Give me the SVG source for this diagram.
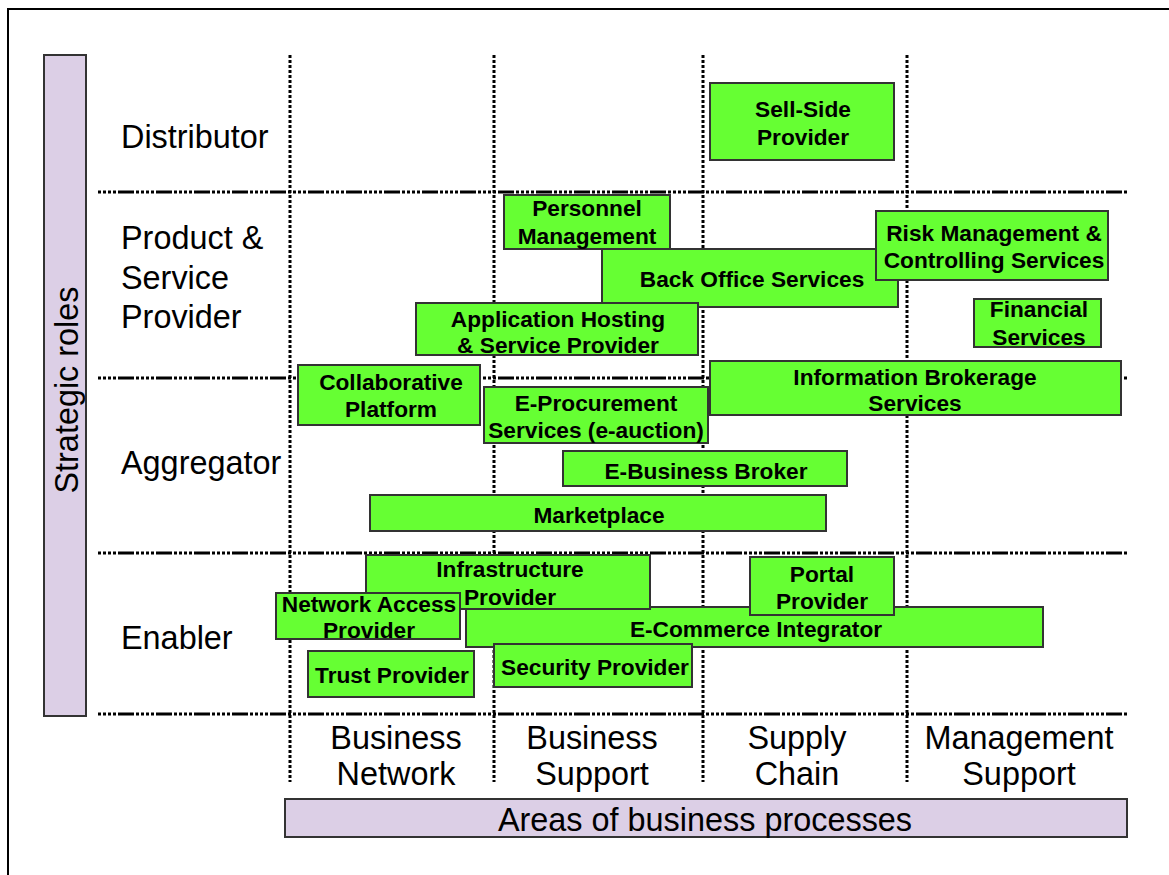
<svg xmlns="http://www.w3.org/2000/svg" width="1169" height="875" viewBox="0 0 1169 875">
<style>
.box{fill:#66ff33;stroke:#333;stroke-width:2}
.bar{fill:#dccfe6;stroke:#333;stroke-width:2}
.bt{font-family:"Liberation Sans",Arial,sans-serif;font-weight:bold;font-size:22.7px;fill:#000;text-anchor:middle}
.rl{font-family:"Liberation Sans",Arial,sans-serif;font-size:32.4px;fill:#000}
.cl{font-family:"Liberation Sans",Arial,sans-serif;font-size:32.4px;fill:#000;text-anchor:middle}
.hl{stroke:#000;stroke-width:3;stroke-dasharray:3 2 3 2 3 2 3 2 16 2;fill:none}
.vl{stroke:#000;stroke-width:3;stroke-dasharray:3 2;fill:none}
</style>
<rect x="0" y="0" width="1169" height="875" fill="#fff"/>
<rect x="8" y="9" width="1200" height="900" fill="none" stroke="#000" stroke-width="2"/>
<g id="axes">
<rect class="bar" x="44" y="55" width="42" height="661"/>
<text class="cl" transform="translate(78,390) rotate(-90)">Strategic roles</text>
<rect class="bar" x="285" y="799" width="842" height="38"/>
<text class="cl" x="705" y="831">Areas of business processes</text>
</g>
<g id="grid">
<line class="hl" x1="98" y1="192" x2="1128" y2="192"/>
<line class="hl" x1="98" y1="378" x2="1128" y2="378"/>
<line class="hl" x1="98" y1="553" x2="1128" y2="553"/>
<line class="hl" x1="98" y1="714" x2="1128" y2="714"/>
<line class="vl" x1="290" y1="55" x2="290" y2="782"/>
<line class="vl" x1="494" y1="55" x2="494" y2="782"/>
<line class="vl" x1="703" y1="55" x2="703" y2="782"/>
<line class="vl" x1="907" y1="55" x2="907" y2="782"/>
</g>
<g id="row-labels">
<text class="rl" x="121" y="148">Distributor</text>
<text class="rl" x="121" y="249">Product &amp;</text>
<text class="rl" x="121" y="289">Service</text>
<text class="rl" x="121" y="328">Provider</text>
<text class="rl" x="121" y="474">Aggregator</text>
<text class="rl" x="121" y="649">Enabler</text>
</g>
<g id="col-labels">
<text class="cl" x="396" y="749">Business</text><text class="cl" x="396" y="785">Network</text>
<text class="cl" x="592" y="749">Business</text><text class="cl" x="592" y="785">Support</text>
<text class="cl" x="797" y="749">Supply</text><text class="cl" x="797" y="785">Chain</text>
<text class="cl" x="1019" y="749">Management</text><text class="cl" x="1019" y="785">Support</text>
</g>
<g id="sell-side"><rect class="box" x="710" y="83" width="184" height="77"/><text class="bt" x="803" y="117">Sell-Side</text><text class="bt" x="803" y="145">Provider</text></g>
<g id="personnel"><rect class="box" x="504" y="195" width="166" height="54"/><text class="bt" x="587" y="216">Personnel</text><text class="bt" x="587" y="244">Management</text></g>
<g id="back-office"><rect class="box" x="602" y="249" width="296" height="58"/><text class="bt" x="752" y="287">Back Office Services</text></g>
<g id="risk"><rect class="box" x="876" y="211" width="232" height="69"/><text class="bt" x="994" y="241">Risk Management &amp;</text><text class="bt" x="994" y="268">Controlling Services</text></g>
<g id="financial"><rect class="box" x="974" y="299" width="127" height="48"/><text class="bt" x="1039" y="317">Financial</text><text class="bt" x="1039" y="345">Services</text></g>
<g id="app-hosting"><rect class="box" x="416" y="303" width="282" height="52"/><text class="bt" x="558" y="327">Application Hosting</text><text class="bt" x="558" y="353">&amp; Service Provider</text></g>
<g id="collab"><rect class="box" x="298" y="365" width="182" height="60"/><text class="bt" x="391" y="390">Collaborative</text><text class="bt" x="391" y="417">Platform</text></g>
<g id="e-proc"><rect class="box" x="484" y="387" width="224" height="56"/><text class="bt" x="596" y="411">E-Procurement</text><text class="bt" x="596" y="438">Services (e-auction)</text></g>
<g id="info-brokerage"><rect class="box" x="710" y="361" width="411" height="54"/><text class="bt" x="915" y="385">Information Brokerage</text><text class="bt" x="915" y="411">Services</text></g>
<g id="e-business"><rect class="box" x="563" y="451" width="284" height="35"/><text class="bt" x="706" y="479">E-Business Broker</text></g>
<g id="marketplace"><rect class="box" x="370" y="495" width="456" height="36"/><text class="bt" x="599" y="523">Marketplace</text></g>
<g id="e-commerce"><rect class="box" x="466" y="607" width="577" height="40"/><text class="bt" x="756" y="637">E-Commerce Integrator</text></g>
<g id="infrastructure"><rect class="box" x="366" y="555" width="284" height="54"/><text class="bt" x="510" y="577">Infrastructure</text><text class="bt" x="510" y="605">Provider</text></g>
<g id="network-access"><rect class="box" x="276" y="593" width="184" height="46"/><text class="bt" x="369" y="612">Network Access</text><text class="bt" x="369" y="638">Provider</text></g>
<g id="portal"><rect class="box" x="750" y="557" width="144" height="58"/><text class="bt" x="822" y="582">Portal</text><text class="bt" x="822" y="609">Provider</text></g>
<g id="trust"><rect class="box" x="308" y="651" width="166" height="46"/><text class="bt" x="392" y="683">Trust Provider</text></g>
<g id="security"><rect class="box" x="494" y="644" width="198" height="43"/><text class="bt" x="595" y="675">Security Provider</text></g>
<g id="connectors"></g>
</svg>
